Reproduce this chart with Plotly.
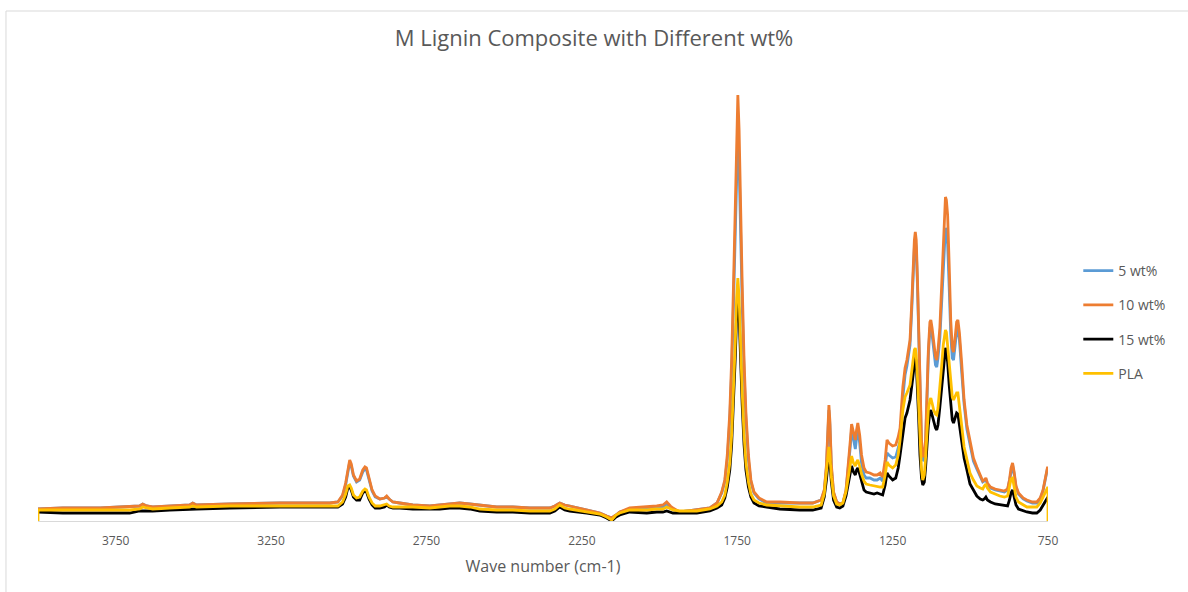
import plotly.graph_objects as go

# Wavenumber grid (cm-1), high to low
wavenumber = [
    4000, 3920, 3800, 3705, 3673, 3663, 3650, 3631, 3576, 3512, 3502, 3490, 3383, 3277, 3222, 3158, 3061,
    3035, 3020, 3010, 3003, 2997, 2992, 2985, 2975, 2965, 2955, 2948, 2943, 2935, 2925, 2915, 2900, 2885, 2878, 2870, 2858,
    2836, 2794, 2739, 2707, 2675, 2643, 2611, 2578, 2524, 2472, 2417, 2353, 2337, 2321, 2305, 2289, 2234, 2192, 2170, 2154,
    2140, 2128, 2096, 2041, 2009, 1989, 1977, 1965, 1957, 1935, 1880, 1838, 1815,
    1800, 1790, 1782, 1774, 1768, 1762, 1756, 1752, 1748, 1744, 1740, 1734, 1728, 1722, 1714, 1706, 1696, 1680, 1655,
    1613, 1549, 1507, 1480, 1470, 1463, 1458, 1455, 1452, 1447, 1440, 1430, 1420, 1410, 1400, 1392, 1386, 1382, 1376, 1370,
    1366, 1362, 1356, 1350, 1342, 1335, 1323, 1310, 1300, 1290, 1282,
    1274, 1268, 1262, 1250, 1240, 1232, 1226, 1217, 1210, 1204, 1194, 1188, 1184, 1180, 1177, 1174, 1170, 1166, 1162, 1157,
    1153, 1148, 1144, 1140, 1135, 1130, 1127, 1123, 1118, 1112, 1108, 1104, 1098, 1092, 1087, 1083, 1080, 1077, 1073, 1068,
    1063, 1058, 1054, 1048, 1044, 1040,
    1035, 1028, 1020, 1011, 1001, 990, 979, 968, 960, 955, 950, 945, 935, 920, 905, 890, 880, 874, 869, 864,
    859, 853, 845, 830, 818, 800, 786, 775, 766, 760, 755, 752, 750,
]

# Absorbance (arbitrary units) for each sample on the grid above
wt5 = [
    12, 13, 13, 14, 15, 17, 15, 14, 15, 16, 18, 16, 17, 18, 18, 18, 18,
    19, 25, 36, 51, 59, 55, 45, 39, 41, 49, 52, 51, 42, 30, 24, 22, 23, 24, 22, 19,
    18, 16, 15, 16, 17, 18, 17, 16, 14, 14, 13, 13, 15, 18, 16, 15, 11, 8, 5, 3,
    6, 9, 12, 12, 13, 14, 17, 14, 12, 9, 11, 13, 18,
    28, 39, 61, 101, 149, 218, 295, 358, 388, 358, 295, 218, 149, 101, 61, 39, 28, 22, 18,
    18, 18, 18, 21, 30, 53, 97, 111, 97, 53, 28, 19, 17, 18, 30, 52, 75, 92, 82, 72,
    83, 92, 78, 58, 46, 43, 43, 41, 41, 43, 40,
    54, 68, 66, 63, 64, 72, 80, 124, 146, 155, 176, 214, 248, 273, 281, 273, 235, 180, 130, 76,
    60, 62, 76, 120, 165, 193, 196, 186, 170, 156, 154, 163, 183, 220, 257, 283, 293, 290, 277, 234,
    187, 163, 161, 178, 190, 193,
    181, 150, 117, 92, 76, 60, 52, 44, 39, 40, 42, 37, 33, 31, 30, 29, 31, 40, 51, 56,
    47, 34, 27, 22, 20, 18, 18, 22, 30, 40, 48, 52, 52,
]

wt10 = [
    12, 13, 13, 14, 15, 17, 15, 14, 15, 16, 18, 16, 17, 18, 18, 18, 18,
    19, 26, 38, 53, 61, 57, 46, 40, 42, 51, 54, 53, 43, 31, 25, 22, 23, 25, 22, 19,
    18, 16, 15, 16, 17, 18, 17, 16, 14, 14, 13, 13, 15, 18, 16, 15, 11, 8, 5, 3,
    6, 9, 13, 14, 15, 16, 19, 15, 13, 9, 11, 13, 18,
    29, 41, 66, 108, 161, 236, 321, 391, 426, 391, 321, 236, 161, 108, 66, 41, 29, 23, 19,
    19, 18, 18, 21, 31, 56, 101, 116, 101, 56, 29, 19, 17, 18, 31, 56, 81, 97, 89, 81,
    91, 98, 86, 66, 53, 49, 48, 46, 46, 48, 44,
    61, 81, 78, 75, 76, 84, 93, 134, 153, 161, 181, 221, 256, 281, 289, 281, 241, 186, 136, 81,
    64, 66, 81, 126, 171, 199, 201, 193, 178, 164, 161, 171, 193, 236, 281, 313, 324, 321, 306, 256,
    201, 173, 169, 186, 199, 201,
    188, 159, 121, 96, 79, 63, 54, 46, 40, 41, 43, 38, 34, 32, 31, 30, 32, 41, 53, 58,
    49, 35, 28, 23, 21, 19, 19, 23, 31, 41, 49, 53, 53,
]

wt15 = [
    9, 8, 8, 8, 10, 10, 10, 10, 11, 12, 12, 12, 13, 14, 14, 14, 14,
    14, 17, 24, 33, 34, 31, 24, 21, 21, 28, 30, 29, 22, 16, 13, 13, 14, 16, 14, 13,
    13, 12, 12, 12, 13, 13, 12, 10, 9, 9, 8, 8, 10, 14, 11, 10, 8, 6, 3, 0,
    4, 6, 9, 8, 9, 9, 10, 9, 8, 8, 8, 10, 13,
    16, 23, 34, 51, 76, 116, 166, 206, 228, 206, 166, 116, 76, 51, 34, 24, 18, 15, 14,
    12, 11, 11, 13, 24, 41, 59, 68, 59, 39, 21, 14, 13, 15, 25, 39, 49, 55, 49, 46,
    51, 53, 47, 39, 31, 29, 28, 27, 28, 27, 26,
    36, 48, 45, 41, 43, 53, 66, 89, 103, 108, 121, 136, 149, 161, 164, 159, 136, 101, 66, 43,
    36, 39, 53, 76, 96, 109, 111, 106, 99, 93, 91, 96, 114, 136, 156, 169, 173, 171, 159, 136,
    113, 101, 98, 104, 108, 107,
    96, 81, 63, 51, 37, 31, 25, 22, 21, 22, 24, 21, 19, 17, 16, 15, 15, 21, 28, 31,
    25, 16, 12, 10, 9, 8, 8, 11, 16, 19, 22, 23, 23,
]

# PLA spectrum carries a zero point at each end of the range
pla_wavenumber = [4000] + wavenumber + [750]
pla = [
    0,
    11, 11, 11, 11, 12, 14, 13, 12, 13, 14, 15, 14, 15, 15, 15, 15, 15,
    15, 19, 27, 35, 36, 33, 26, 23, 24, 30, 32, 31, 24, 18, 15, 15, 16, 17, 15, 14,
    14, 14, 13, 14, 15, 15, 14, 12, 11, 11, 10, 10, 12, 16, 13, 12, 9, 7, 4, 1,
    6, 8, 11, 11, 12, 12, 14, 12, 11, 10, 10, 12, 15,
    19, 26, 39, 58, 86, 129, 181, 223, 243, 223, 181, 129, 86, 58, 39, 27, 21, 18, 16,
    15, 14, 14, 16, 27, 46, 66, 74, 66, 44, 25, 17, 16, 18, 29, 46, 59, 65, 58, 55,
    59, 61, 55, 47, 40, 37, 36, 35, 35, 34, 34,
    46, 59, 56, 53, 56, 66, 81, 111, 124, 128, 136, 151, 163, 171, 173, 166, 143, 111, 76, 51,
    41, 46, 63, 89, 111, 121, 123, 118, 111, 107, 106, 113, 131, 156, 176, 187, 191, 189, 176, 156,
    136, 124, 121, 125, 128, 128,
    116, 96, 74, 61, 48, 41, 35, 33, 32, 35, 37, 33, 29, 27, 25, 24, 25, 34, 42, 43,
    34, 24, 19, 16, 14, 14, 14, 18, 24, 29, 32, 33, 33,
    0,
]

tick_values = [3750, 3250, 2750, 2250, 1750, 1250, 750]
tick_labels = ["3750", "3250", "2750", "2250", "1750", "1250", "750"]

FONT = "Open Sans, Lato, sans-serif"
TEXT = "#595959"
BORDER = "#D9D9D9"

series = [
    ("5 wt%", wavenumber, wt5, "#5B9BD5"),
    ("10 wt%", wavenumber, wt10, "#ED7D31"),
    ("15 wt%", wavenumber, wt15, "#000000"),
    ("PLA", pla_wavenumber, pla, "#FFC000"),
]

fig = go.Figure()
for name, xs, ys, color in series:
    fig.add_trace(go.Scatter(
        x=xs, y=ys, mode="lines", name=name, legendgroup=name,
        line=dict(color=color, width=2.8),
    ))

# Chart-area frame along the top and left edges
fig.add_shape(type="line", xref="paper", yref="paper",
              x0=-0.0317, x1=1.14, y0=1.1333, y1=1.1333,
              line=dict(color=BORDER, width=1))
fig.add_shape(type="line", xref="paper", yref="paper",
              x0=-0.0317, x1=-0.0317, y0=1.1333, y1=-0.16,
              line=dict(color=BORDER, width=1))

fig.update_layout(
    width=1188, height=592,
    margin=dict(l=38, r=140, t=71, b=71),
    paper_bgcolor="white", plot_bgcolor="white",
    font=dict(family=FONT, color=TEXT),
    title=dict(
        text="M Lignin Composite with Different wt%",
        x=0.5, xref="container", xanchor="center",
        y=1 - 38 / 592, yref="container", yanchor="middle",
        font=dict(size=22, color=TEXT, family=FONT),
    ),
    showlegend=True,
    legend=dict(
        x=1.03, xanchor="left", y=0.442, yanchor="middle",
        font=dict(size=14, color=TEXT, family=FONT),
        tracegroupgap=13, itemwidth=30, bgcolor="rgba(0,0,0,0)",
    ),
    xaxis=dict(
        range=[4000, 750], tickvals=tick_values, ticktext=tick_labels,
        showgrid=False, zeroline=False, showline=True, linecolor=BORDER, linewidth=1,
        ticks="outside", ticklen=9, tickcolor="rgba(0,0,0,0)",
        tickfont=dict(size=12, color=TEXT, family=FONT),
        title=dict(text="Wave number (cm-1)", font=dict(size=16, color=TEXT, family=FONT), standoff=12),
    ),
    yaxis=dict(range=[0, 450], visible=False),
)

fig.write_html("out.html")
